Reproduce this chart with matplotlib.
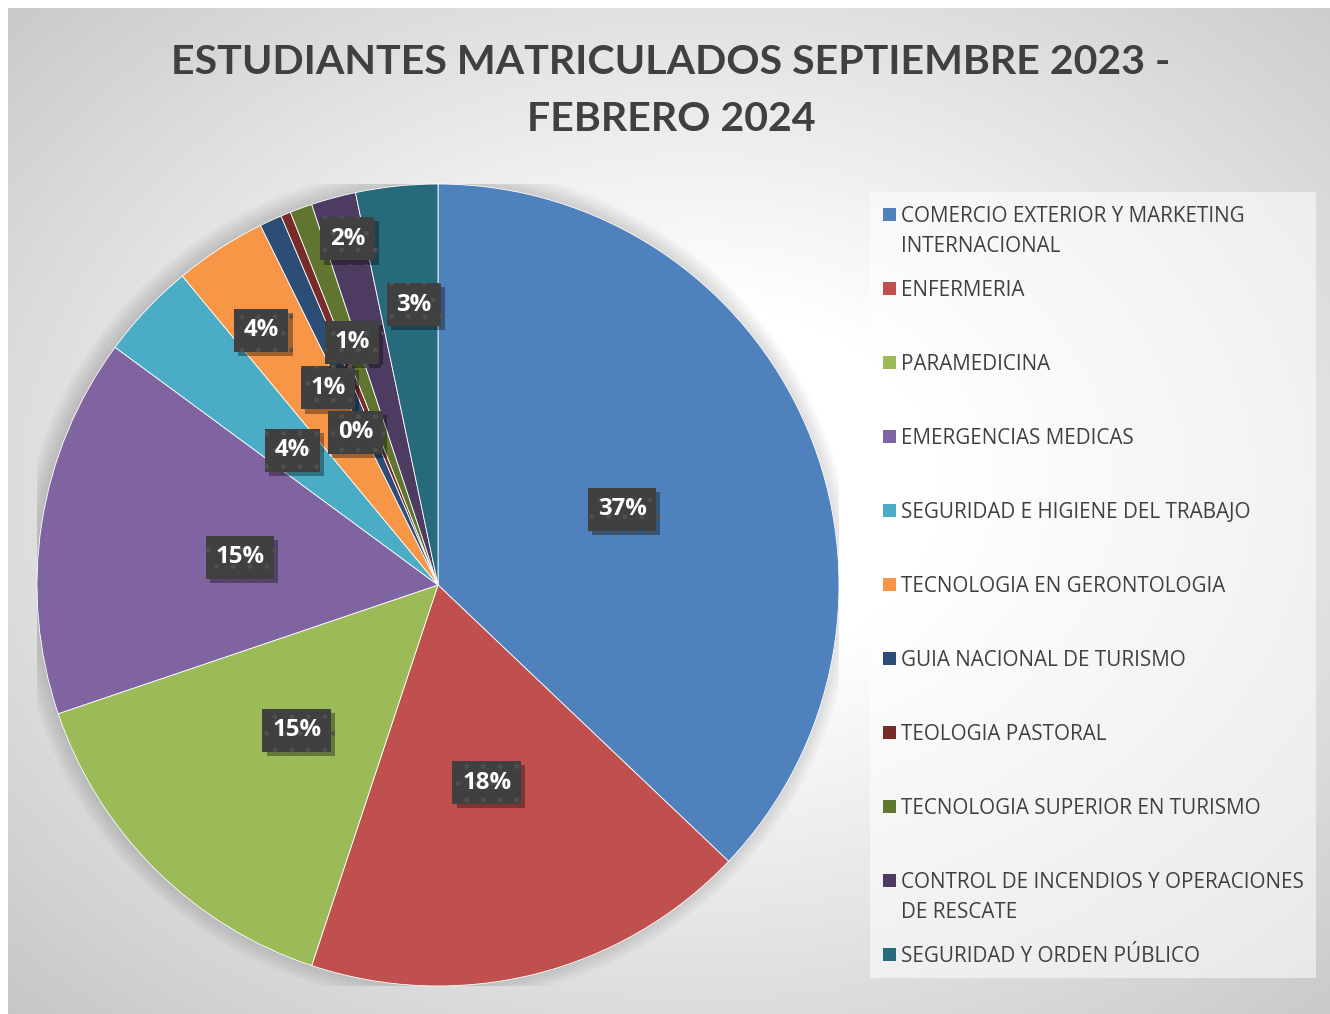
import matplotlib.pyplot as plt
from matplotlib.patches import Rectangle, Circle
import matplotlib.patheffects as pe
import numpy as np

categories = [
    "COMERCIO EXTERIOR Y MARKETING\nINTERNACIONAL",
    "ENFERMERIA",
    "PARAMEDICINA",
    "EMERGENCIAS MEDICAS",
    "SEGURIDAD E HIGIENE DEL TRABAJO",
    "TECNOLOGIA EN GERONTOLOGIA",
    "GUIA NACIONAL DE TURISMO",
    "TEOLOGIA PASTORAL",
    "TECNOLOGIA SUPERIOR EN TURISMO",
    "CONTROL DE INCENDIOS Y OPERACIONES\nDE RESCATE",
    "SEGURIDAD Y ORDEN PÚBLICO",
]
shares = [37.1, 18.0, 14.7, 15.3, 3.9, 3.7, 0.9, 0.4, 0.9, 1.8, 3.3]
colors = ["#4F81BD", "#C0504D", "#9BBB59", "#8064A2", "#4BACC6", "#F79646",
          "#2C4D75", "#772C2A", "#5F7530", "#4D3B62", "#276A7C"]

# data label placement (fraction of radius, angular shift in degrees, clockwise)
label_r = [0.5, 0.5, 0.5, 0.5, 0.5, 0.78, 0.57, 0.44, 0.65, 0.90, 0.71]
label_shift = [0, 0, 0, 0, 0, -1.5, -4.1, -5.6, 0.7, 0.6, 1.1]

W, H = 1330, 1014
fig = plt.figure(figsize=(W / 100, H / 100), dpi=100)
fig.patch.set_facecolor("white")


def fx(x):
    return x / W


def fy(y):
    return 1 - y / H


# chart area background: soft radial gradient
bg = fig.add_axes([fx(8), fy(1014), (W - 8) / W, 1006 / H])
yy, xx = np.mgrid[0:1006, 0:1322]
d = np.hypot((xx - 690) / 690, (yy - 480) / 520) / np.sqrt(2)
t = np.clip((d - 0.25) / 0.75, 0, 1)
g = 1 - 0.22 * t
bg.imshow(np.dstack([g, g, g]), aspect="auto", interpolation="bilinear")
bg.axis("off")

# pie
cx, cy, R = 438, 585, 401
ax = fig.add_axes([fx(cx - R), fy(cy + R), 2 * R / W, 2 * R / H])
ax.axis("off")

for k in range(8):
    ax.add_patch(Circle((-0.006, 0.004), 1.0 + 0.006 * k, color="black",
                        alpha=0.02, lw=0, zorder=0))

wedges, _ = ax.pie(shares, colors=colors, startangle=90, counterclock=False,
                   radius=1.0, wedgeprops=dict(edgecolor="white", linewidth=0.6))
ax.set_xlim(-1, 1)
ax.set_ylim(-1, 1)

total = sum(shares)
for w, v, r, s in zip(wedges, shares, label_r, label_shift):
    ang = np.deg2rad((w.theta1 + w.theta2) / 2 - s)
    x, y = r * np.cos(ang), r * np.sin(ang) - 0.008
    txt = f"{round(100 * v / total):.0f}%"
    t = ax.text(x, y, txt, ha="center", va="center", fontsize=17.3,
                fontweight="bold", family="Open Sans", color="white", zorder=5,
                bbox=dict(boxstyle="square,pad=0.4", facecolor="#404040",
                          edgecolor="#505050", linewidth=0, hatch="."))
    t.get_bbox_patch().set_path_effects([
        pe.SimplePatchShadow(offset=(3, -3), shadow_rgbFace="black", alpha=0.35),
        pe.Normal()])

# title
fig.text(fx(671), fy(63), "ESTUDIANTES MATRICULADOS SEPTIEMBRE 2023 -",
         ha="center", va="center", fontsize=29.6, fontweight="bold",
         family="Lato", color="#404040")
fig.text(fx(671), fy(120), "FEBRERO 2024", ha="center", va="center",
         fontsize=29.6, fontweight="bold", family="Lato", color="#404040")

# legend
fig.patches.append(Rectangle((fx(870), fy(978)), (1316 - 870) / W, (978 - 192) / H,
                             transform=fig.transFigure, facecolor="white",
                             alpha=0.55, edgecolor="none", zorder=1))
for i, (lab, c) in enumerate(zip(categories, colors)):
    y0 = 214 + 74 * i
    fig.patches.append(Rectangle((fx(883), fy(y0 + 7)), 13 / W, 13 / H,
                                 transform=fig.transFigure, facecolor=c,
                                 edgecolor="none", zorder=2))
    fig.text(fx(901), fy(y0 - 8), lab, ha="left", va="top", fontsize=14.9,
             family="Open Sans", color="#404040", linespacing=1.55, zorder=3)

fig.savefig("out.png", dpi=100)
